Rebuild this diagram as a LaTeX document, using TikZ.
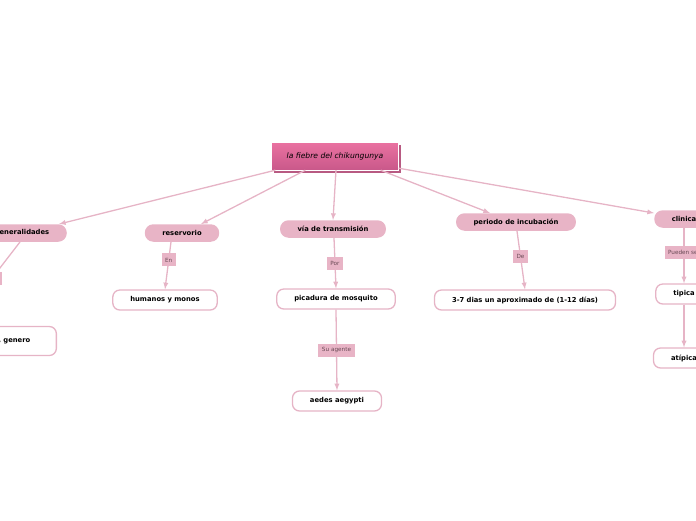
\documentclass[tikz,border=0pt]{standalone}
\usepackage{fontspec}
\setsansfont{DejaVu Sans}
\usetikzlibrary{arrows,shapes,positioning,shadows}
\definecolor{rosa}{HTML}{E8B4C6}
\definecolor{rosaline}{HTML}{E6B4C6}
\definecolor{rosatop}{HTML}{EA72A1}
\definecolor{rosabot}{HTML}{C9588A}
\definecolor{rosashadow}{HTML}{B85A82}
\definecolor{lbltext}{HTML}{6A4A56}
\tikzset{
  basic/.style  = {font=\sffamily\bfseries\fontsize{6.8}{8}\selectfont, rectangle, text=black},
  root/.style   = {draw=white, thin, top color=rosatop, bottom color=rosabot,
                   font=\sffamily\itshape\fontsize{7.6}{9}\selectfont,
                   minimum width=127pt, minimum height=28pt,
                   drop shadow={shadow xshift=2.5pt, shadow yshift=-2.5pt, fill=rosashadow, opacity=1}},
  topic/.style  = {basic, fill=rosa, rounded corners=8.5pt, minimum height=17.5pt, inner xsep=17.5pt},
  leaf/.style   = {basic, draw=rosaline, line width=1.3pt, fill=white, rounded corners=7pt,
                   minimum height=20pt, inner xsep=17.5pt},
  lbl/.style    = {rectangle, fill=rosa, text=lbltext, font=\sffamily\fontsize{5.7}{6.5}\selectfont,
                   inner xsep=3.5pt, minimum height=13pt},
  link/.style   = {draw=rosaline, line width=1.3pt},
  arrow/.style  = {link, ->}
}
\begin{document}
\begin{tikzpicture}[x=1pt,y=-1pt,>=latex]
  \useasboundingbox (0,0) rectangle (696,520);
  \clip (0,0) rectangle (696,520);
  % main topic
  \node[root] (title) at (335,156) {la fiebre del chikungunya};
  % first level
  \node[topic] (gen) at (22,233) {generalidades};
  \node[topic] (res) at (182,233) {reservorio};
  \node[topic] (via) at (333,229) {vía de transmisión};
  \node[topic] (per) at (516,222) {periodo de incubación};
  \node[topic] (cli) at (684,219) {clinica};
  % second level
  \node[leaf, anchor=east, text width=80pt, align=right, inner xsep=26pt, minimum height=29pt] (genleaf) at (57,341) {, genero};
  \node[leaf] (hum) at (165,300) {humanos y monos};
  \node[leaf] (pic) at (336,299) {picadura de mosquito};
  \node[leaf] (aed) at (337,401) {aedes aegypti};
  \node[leaf] (dias) at (525,300) {3-7 dias un aproximado de (1-12 días)};
  \node[leaf] (tip) at (684,294) {tipica};
  \node[leaf] (ati) at (684,358) {atípica};
  % from the main topic
  \draw[arrow] ([xshift=4pt]title.south west) -- ([xshift=-8pt]gen.north east);
  \draw[arrow] ([xshift=34pt]title.south west) -- ([xshift=19pt]res.north);
  \draw[arrow] ([xshift=1pt]title.south) -- (via.north);
  \draw[arrow] ([xshift=-18pt]title.south east) -- ([xshift=-26pt]per.north);
  \draw[arrow] ([yshift=2pt]title.south east) -- ([yshift=-3pt]cli.north west);
  % labelled links
  \draw[link] ([xshift=-2pt]gen.south) -- node[lbl, pos=0.43, minimum width=20pt] {} ([xshift=-35pt]genleaf.north);
  \draw[arrow] ([xshift=-11pt]res.south) -- node[lbl, pos=0.38] {En} (hum.north);
  \draw[arrow] ([xshift=1pt]via.south) -- node[lbl, pos=0.5] {Por} (pic.north);
  \draw[arrow] (pic.south) -- node[lbl, pos=0.5] {Su agente} (aed.north);
  \draw[arrow] ([xshift=1pt]per.south) -- node[lbl, pos=0.44] {De} (dias.north);
  \draw[arrow] (cli.south) -- node[lbl, pos=0.44] {Pueden ser} (tip.north);
  \draw[arrow] (tip.south) -- (ati.north);
\end{tikzpicture}
\end{document}
